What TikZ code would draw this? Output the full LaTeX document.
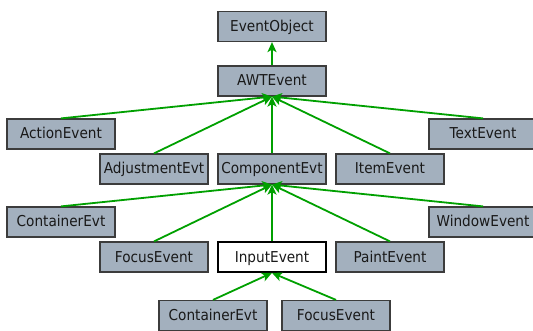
\documentclass[tikz,border=0pt]{standalone}
\usepackage{fontspec}
\setmainfont{DejaVu Sans}[FakeStretch=0.91]
\usetikzlibrary{arrows.meta}
\definecolor{boxfill}{HTML}{A3B0BE}
\definecolor{boxline}{HTML}{3C3C3C}
\definecolor{linkgreen}{RGB}{0,160,0}
\tikzset{
  cls/.style={draw=boxline, fill=boxfill, line width=1.2pt, minimum width=108pt,
    minimum height=30pt, inner sep=0pt, text height=10pt, text depth=0pt,
    font=\fontsize{15pt}{17pt}\selectfont, text=black!90},
  focus/.style={cls, fill=white, draw=black, line width=1.8pt},
  inherit/.style={draw=linkgreen, line width=1.8pt,
    -{Stealth[length=10pt,width=9pt,inset=2.5pt]}}
}
\begin{document}
\begin{tikzpicture}[x=1pt,y=-1pt]
\useasboundingbox (0,0) rectangle (533,331);
% class boxes
\node[cls] (eo)  at (272,26.5) {EventObject};
\node[cls] (awt) at (272,81) {AWTEvent};
\node[cls] (act) at (61,134) {ActionEvent};
\node[cls] (txt) at (483,134) {TextEvent};
\node[cls] (adj) at (154,169) {AdjustmentEvt};
\node[cls] (cmp) at (272,169) {ComponentEvt};
\node[cls] (itm) at (390,169) {ItemEvent};
\node[cls] (cnt) at (61,222) {ContainerEvt};
\node[cls] (win) at (483,222) {WindowEvent};
\node[cls] (foc) at (154,257) {FocusEvent};
\node[focus] (inp) at (272,257) {InputEvent};
\node[cls] (pnt) at (390,257) {PaintEvent};
\node[cls] (cnt2) at (213,315.5) {ContainerEvt};
\node[cls] (foc2) at (336,315.5) {FocusEvent};
% inheritance links
\draw[inherit] (awt.north) -- (eo.south);
\foreach \c in {act,txt,adj,cmp,itm}
  \draw[inherit] (\c.north) -- (awt.south);
\foreach \c in {cnt,win,foc,inp,pnt}
  \draw[inherit] (\c.north) -- (cmp.south);
\foreach \c in {cnt2,foc2}
  \draw[inherit] (\c.north) -- (inp.south);
\end{tikzpicture}
\end{document}
